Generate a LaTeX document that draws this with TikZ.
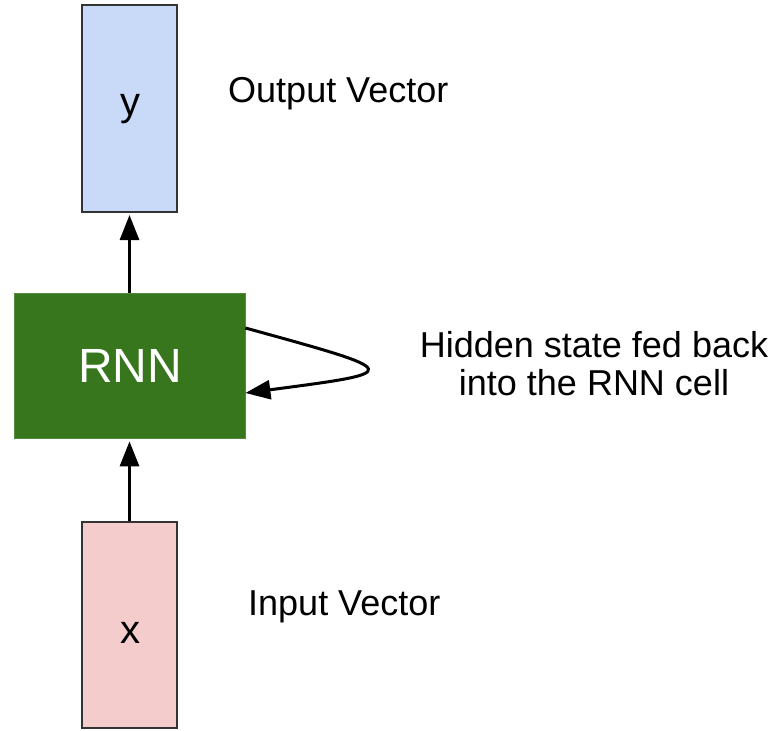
\documentclass[tikz,border=0pt]{standalone}
\usepackage{fontspec}
\setmainfont{Liberation Sans}
\usetikzlibrary{arrows.meta}
\definecolor{yfill}{HTML}{C9DAF8}
\definecolor{xfill}{HTML}{F4CCCC}
\definecolor{rnnfill}{HTML}{38761D}
\definecolor{boxline}{HTML}{333333}
\begin{document}
\begin{tikzpicture}[x=1pt,y=-1pt,
  vecbox/.style={draw=boxline,line width=2pt,minimum width=95pt,inner sep=0pt},
  rnnbox/.style={draw=rnnfill!85!white,line width=0.8pt,fill=rnnfill,minimum width=231pt,minimum height=145pt,inner sep=0pt},
  conn/.style={line width=3pt,-{Triangle[length=25pt,width=19pt]}},
  lbl/.style={font=\fontsize{36}{38}\selectfont,inner sep=0pt,anchor=base west},
  boxtext/.style={font=\fontsize{40}{44}\selectfont}]
\useasboundingbox (0,0) rectangle (783,730);
\node[vecbox,fill=yfill,minimum height=207pt] (ybox) at (129.5,108.5) {};
\node[vecbox,fill=xfill,minimum height=206pt] (xbox) at (129.5,625) {};
\node[rnnbox] (rnn) at (129.5,365.5) {};
\node[boxtext,anchor=base] (ylet) at (130,116) {y};
\node[boxtext,anchor=base] (xlet) at (130,643) {x};
\node[font=\fontsize{48}{50}\selectfont,text=white,anchor=base,inner sep=0pt] (rnnlet) at (130,382) {RNN};
\node[lbl] (outlbl) at (228,103) {Output Vector};
\node[lbl] (inlbl) at (248,615) {Input Vector};
\node[font=\fontsize{36}{38}\selectfont,align=center,inner sep=0pt,anchor=base] (hidlbl) at (594,395) {Hidden state fed back\\into the RNN cell};
\draw[conn] (rnn.north) -- ([yshift=-2pt]ybox.south);
\draw[conn] (xbox.north) -- ([yshift=-3pt]rnn.south);
\coordinate (loopa) at ([yshift=37.5pt]rnn.east);
\coordinate (loopb) at ([yshift=-27.5pt]rnn.east);
\draw[conn] (loopa) .. controls ([xshift=160pt,yshift=-44pt]loopa) and ([xshift=160pt,yshift=21pt]loopb) .. (loopb);
\end{tikzpicture}
\end{document}
